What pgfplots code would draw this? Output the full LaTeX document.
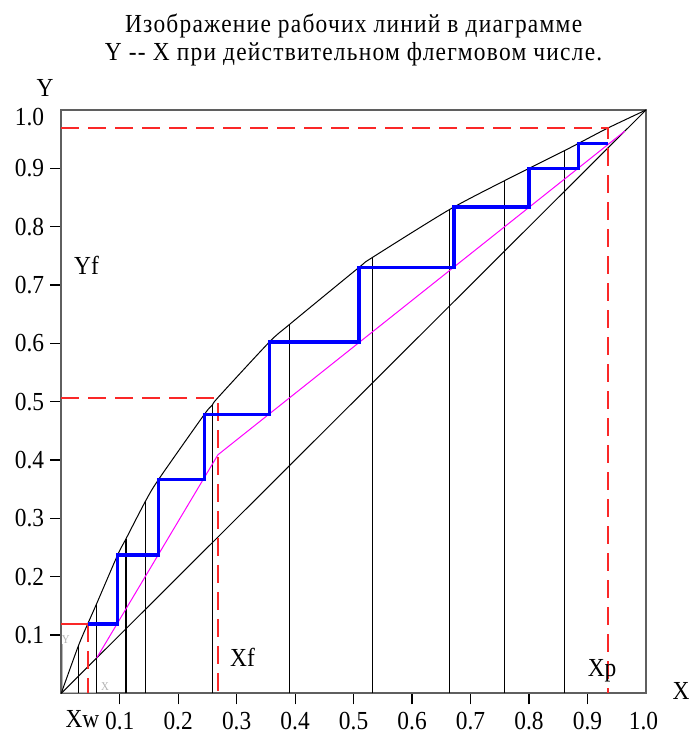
\documentclass[border=0pt]{standalone}
\usepackage{fontspec}
\setmainfont{Liberation Serif}[FakeStretch=0.9]
\usepackage{pgfplots}
\pgfplotsset{compat=1.18}
\definecolor{boxgray}{RGB}{95,95,95}
\definecolor{myred}{RGB}{250,40,40}
\definecolor{myblue}{RGB}{0,0,255}
\definecolor{mymag}{RGB}{255,0,255}
\newcommand\fs{\fontsize{13}{15}\selectfont}
\newcommand\fst{\fontsize{13}{15}\selectfont\addfontfeature{LetterSpace=4.8}}
\begin{document}
\begin{tikzpicture}
\begin{axis}[name=ax, scale only axis, width=292.4pt, height=291.7pt,
  xmin=0, xmax=1, ymin=0, ymax=1, clip=false,
  axis line style={draw=boxgray, line width=0.9pt},
  xtick={0.1,0.2,0.3,0.4,0.5,0.6,0.7,0.8,0.9},
  ytick={0.1,0.2,0.3,0.4,0.5,0.6,0.7,0.8,0.9},
  xticklabels={}, yticklabels={},
  tick pos=left, tick align=outside, major tick length=5.5pt,
  tick style={black, line width=0.6pt},
  red dash/.style={myred, line width=1pt, dash pattern=on 9pt off 4.5pt},
  vline/.style={black, line width=0.55pt},
]
% UCS icon
\addplot[gray!55, line width=0.5pt] coordinates {(0.003,0)(0.003,0.085)};
\addplot[gray!55, line width=0.5pt] coordinates {(0,0.002)(0.06,0.002)};
\node[gray!60, font=\fontsize{6}{7}\selectfont] at (axis cs:0.008,0.093) {Y};
\node[gray!60, font=\fontsize{6}{7}\selectfont] at (axis cs:0.075,0.012) {X};
% diagonal
\addplot[black, line width=0.5pt] coordinates {(0,0)(1,1)};
% equilibrium curve
\addplot[black, line width=0.5pt, smooth, tension=0.45] coordinates {
(0,0)(0.0292,0.081)(0.0453,0.119)(0.0607,0.154)(0.0966,0.2375)(0.1108,0.265)
(0.1444,0.330)(0.1667,0.367)(0.2446,0.478)(0.2583,0.494)(0.268,0.507)
(0.3557,0.602)(0.3899,0.632)(0.509,0.730)(0.5318,0.747)(0.6634,0.829)
(0.7574,0.8785)(0.800,0.900)(0.860,0.930)(0.885,0.943)
(0.9347,0.969)(1,1)};
% vertical lines
\addplot[vline] coordinates {(0.0292,0)(0.0292,0.081)};
\addplot[vline] coordinates {(0.0607,0)(0.0607,0.154)};
\addplot[vline] coordinates {(0.1108,0)(0.1108,0.265)};
\addplot[vline] coordinates {(0.1444,0)(0.1444,0.330)};
\addplot[vline] coordinates {(0.2583,0)(0.2583,0.494)};
\addplot[vline] coordinates {(0.3899,0)(0.3899,0.632)};
\addplot[vline] coordinates {(0.5318,0)(0.5318,0.747)};
\addplot[vline] coordinates {(0.6634,0)(0.6634,0.829)};
\addplot[vline] coordinates {(0.7574,0)(0.7574,0.8785)};
\addplot[vline] coordinates {(0.860,0)(0.860,0.930)};
% operating lines
\addplot[mymag, line width=0.5pt] coordinates {(0.0607,0.0607)(0.268,0.409)(0.9638,0.9638)};
% red guides
\addplot[myred, line width=1pt] coordinates {(0,0.119)(0.0453,0.119)};
\addplot[red dash] coordinates {(0.0453,0.119)(0.0453,0)};
\addplot[red dash] coordinates {(0,0.507)(0.268,0.507)(0.268,0)};
\addplot[red dash] coordinates {(0,0.969)(0.9347,0.969)(0.9347,0)};
% steps
\addplot[myblue, line width=1.7pt] coordinates {
(0.0453,0.119)(0.0966,0.119)(0.0966,0.2375)(0.1667,0.2375)(0.1667,0.367)
(0.2446,0.367)(0.2446,0.478)(0.3557,0.478)(0.3557,0.602)(0.509,0.602)
(0.509,0.730)(0.6715,0.730)(0.6715,0.834)(0.800,0.834)(0.800,0.900)
(0.885,0.900)(0.885,0.943)(0.9347,0.943)};
% tick labels
\foreach \v in {0.1,0.2,0.3,0.4,0.5,0.6,0.7,0.8,0.9} {
  \edef\tmp{\noexpand\node[font=\noexpand\fs, anchor=base] at (axis cs:\v,-0.0627) {\v};}\tmp
  \edef\tmp{\noexpand\node[font=\noexpand\fs, anchor=east, inner sep=0pt] at (axis cs:-0.0286,\v) {\v};}\tmp
}
\node[font=\fs, anchor=base] at (axis cs:0.9957,-0.0627) {1.0};
\node[font=\fs, anchor=east, inner sep=0pt] at (axis cs:-0.0286,0.9883) {1.0};
\node[font=\fs, anchor=base] at (axis cs:0.0364,-0.0590) {Xw};
\node[font=\fs, anchor=base] at (axis cs:1.0598,-0.0113) {X};
\node[font=\fs, anchor=base] at (axis cs:-0.0277,1.0223) {Y};
\node[font=\fs, anchor=base] at (axis cs:0.0433,0.7172) {Yf};
\node[font=\fs, anchor=base] at (axis cs:0.310,0.0458) {Xf};
\node[font=\fs, anchor=base] at (axis cs:0.925,0.0284) {Xp};
\node[font=\fst, anchor=base] at (axis cs:0.5,1.132) {Изображение рабочих линий в диаграмме};
\node[font=\fst, anchor=base] at (axis cs:0.5,1.084) {Y {-}{-} X при действительном флегмовом числе.};
\end{axis}
\pgfresetboundingbox
\path[use as bounding box] (ax.south west) ++(-30.6pt,-19.8pt) rectangle ++(345.5pt,366.5pt);
\end{tikzpicture}
\end{document}
